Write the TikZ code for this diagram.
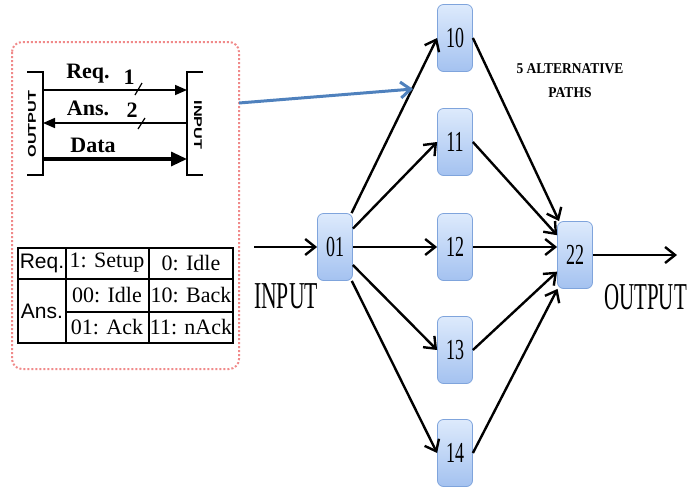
\documentclass[tikz,border=0pt]{standalone}
\usepackage{fontspec}
\setmainfont{Liberation Serif}
\setsansfont{Liberation Sans}
\usepackage{graphicx}
\usetikzlibrary{arrows.meta}
\tikzset {>={Straight Barb[length=5pt,width=8pt]}}
\definecolor{boxtop}{HTML}{DDEAFC}
\definecolor{boxbot}{HTML}{A4C2F0}
\definecolor{boxedge}{HTML}{7FA4DC}
\definecolor{redline}{HTML}{F08A8A}
\definecolor{linkblue}{HTML}{4F81BD}
\newcommand{\nar}[2][0.62]{\scalebox{#1}[1]{#2}}
\tikzset{
  hop/.style={draw=boxedge, rounded corners=3pt, top color=boxtop, bottom color=boxbot,
    minimum width=17.5pt, minimum height=33.5pt, inner sep=0pt, font=\fontsize{14.5}{15}\selectfont},
  path/.style={->, line width=1.2pt},
  sig/.style={-{Triangle[length=6pt,width=5pt]}, line width=0.8pt},
  cell/.style={font=\fontsize{11}{12}\selectfont},
  lbl/.style={font=\bfseries\fontsize{11}{12}\selectfont},
  side/.style={font=\sffamily\bfseries\fontsize{5.6}{6}\selectfont},
  big/.style={font=\fontsize{19}{20}\selectfont},
}

\begin{document}
\begin{tikzpicture}[x=0.5pt,y=-0.5pt]
\useasboundingbox (0,0) rectangle (687,488);

\node[hop] (01) at (335,247) {\nar{01}};
\node[hop] (10) at (455,38) {\nar{10}};
\node[hop] (11) at (455,142) {\nar{11}};
\node[hop] (12) at (455,247) {\nar{12}};
\node[hop] (13) at (455,350) {\nar{13}};
\node[hop] (14) at (455,453) {\nar{14}};
\node[hop] (22) at (575,255) {\nar{22}};

\foreach \n in {10,11,13,14} {
  \draw[path] (01) -- (\n.west);
  \draw[path] (\n.east) -- (22);
}
\draw[path] (01) -- (12);
\draw[path] (12) -- (12 -| 22.west);

\coordinate (in) at (254,247);
\coordinate (out) at (677,255);
\draw[path] (in) -- (01);
\draw[path] (22) -- (out);

\node[big] (inlbl) at (286,296) {\nar[0.57]{INPUT}};
\node[big,anchor=west,inner xsep=0pt] (outlbl) at (604,297) {\nar[0.55]{OUTPUT}};
\node[font=\bfseries\fontsize{7.5}{9}\selectfont] (alt) at (570,82)
  {\nar[0.9]{\begin{tabular}{@{}c@{}}5 ALTERNATIVE\\[3pt]PATHS\end{tabular}}};

\draw[densely dotted, line width=1pt, draw=redline, rounded corners=5pt] (12,42) rectangle (239,369);

\draw[line width=1pt] (27,72) -- (43,72) -- (43,175) -- (27,175);
\draw[line width=1pt] (203,72) -- (187,72) -- (187,175) -- (203,175);
\node[side,rotate=90] (txside) at (32,124) {\scalebox{1.45}[1]{OUTPUT}};
\node[side,rotate=-90] (rxside) at (198,125) {\scalebox{1.45}[1]{INPUT}};

\coordinate (reqA) at (43,90);  \coordinate (reqB) at (187,90);
\coordinate (ansA) at (43,123); \coordinate (ansB) at (187,123);
\coordinate (datA) at (43,159); \coordinate (datB) at (187,159);
\draw[sig] (reqA) -- (reqB);
\draw[sig] (ansB) -- (ansA);
\draw[-{Triangle[length=8pt,width=7pt]}, line width=1.6pt] (datA) -- (datB);
\draw[line width=0.6pt] (135,95) -- (142,83);
\draw[line width=0.6pt] (138,129) -- (145,118);

\node[lbl] (req) at (88,74) {Req.};
\node[lbl] (one) at (129,77) {1};
\node[lbl] (ans) at (88,108) {Ans.};
\node[lbl] (two) at (132,110) {2};
\node[lbl] (dat) at (93,145) {Data};

\draw[line width=0.8pt] (18,248) rectangle (233,343);
\draw[line width=0.8pt] (66,248) -- (66,343) (149,248) -- (149,343);
\draw[line width=0.8pt] (18,279) -- (233,279) (66,312) -- (233,312);
\node[cell,font=\sffamily\fontsize{10.5}{12}\selectfont] (treq) at (42,263) {Req.};
\node[cell,font=\sffamily\fontsize{10.5}{12}\selectfont] (tans) at (42,311) {Ans.};
\node[cell] (setup) at (107,263) {1: Setup};
\node[cell] (idle) at (191,263) {0: Idle};
\node[cell] (aidle) at (107,295) {00: Idle};
\node[cell] (back) at (191,295) {10: Back};
\node[cell] (ack) at (107,327) {01: Ack};
\node[cell] (nack) at (191,327) {11: nAck};

\coordinate (insetR) at (239,103);
\coordinate (tip) at (413,89);
\draw[->, line width=1.5pt, draw=linkblue] (insetR) -- (tip);
\end{tikzpicture}
\end{document}
